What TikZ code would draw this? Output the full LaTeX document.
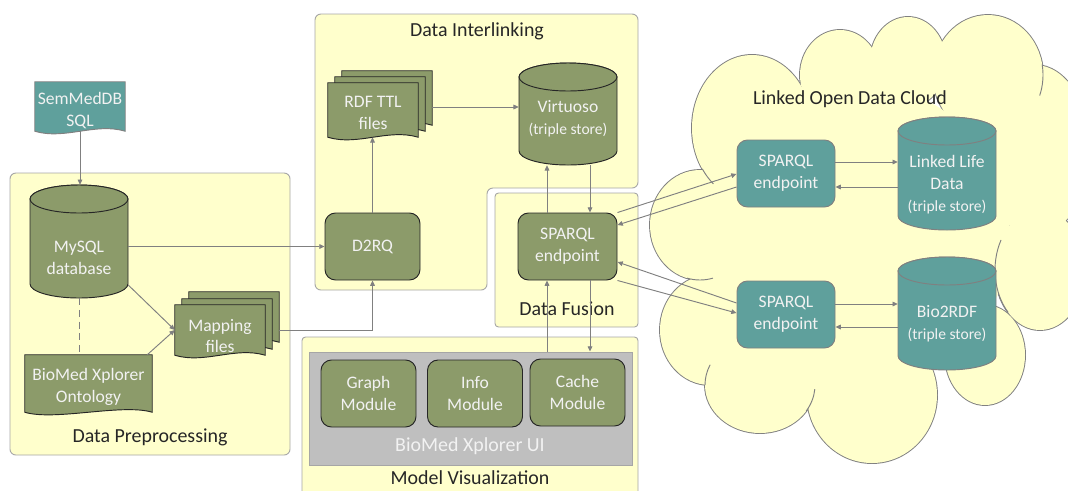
\documentclass[tikz,border=0pt]{standalone}
\usepackage{fontspec}
\setmainfont{Carlito}
\usetikzlibrary{calc,arrows.meta}
\pgfdeclarelayer{back}
\pgfdeclarelayer{mid}
\pgfsetlayers{back,mid,main}
\definecolor{olive}{RGB}{140,155,106}
\definecolor{tealbox}{RGB}{95,160,156}
\definecolor{paper}{RGB}{255,255,204}
\definecolor{rim}{RGB}{166,166,166}
\definecolor{wire}{RGB}{128,128,128}
\definecolor{uigray}{RGB}{191,191,191}
\definecolor{ink}{RGB}{242,242,242}

\tikzset{
  panel/.style={draw=rim, fill=paper, line width=0.8pt, rounded corners=5pt},
  title/.style={font=\fontsize{17}{20}\selectfont, text=black!85, inner sep=0pt},
  inner/.style={font=\fontsize{15}{18.7}\selectfont, align=center, text=ink, inner sep=0pt},
  box/.style={inner, draw=black!85, fill=olive, line width=0.8pt, rounded corners=9pt,
    minimum width=2.85cm, minimum height=2.01cm},
  tbox/.style={box, draw=wire, fill=tealbox, minimum width=2.94cm},
  sheetbox/.style={inner, minimum width=2.7cm, minimum height=1.5cm},
  drumbox/.style={inner, minimum width=2.94cm},
  olivedrum/.style={draw=black!85, fill=olive, line width=0.8pt},
  tealdrum/.style={draw=wire, fill=tealbox, line width=0.8pt},
  wire/.style={draw=wire, line width=0.8pt},
  cloudrim/.style={draw=wire, line width=1.6pt},
}

% cylinder: name, x, top, bottom, look, text y, text
\newcommand{\drum}[7]{%
  \node[drumbox, minimum height={(#4-#3)*0.03cm}] (#1) at (#2,{(#3+#4)/2}) {};
  \node[inner] (#1-t) at (#2,#6) {#7};
  \begin{pgfonlayer}{mid}
  \draw[#5] (#2-49,#3+14) -- (#2-49,#4-14) arc[start angle=180,end angle=0,x radius=49,y radius=14]
    -- (#2+49,#3+14) arc[start angle=0,end angle=-180,x radius=49,y radius=14] -- cycle;
  \draw[#5] (#2,#3+14) ellipse[x radius=49,y radius=14];
  \end{pgfonlayer}}
% document sheet with wavy bottom round a node
\newcommand{\sheet}[2]{%
  \begin{pgfonlayer}{mid}
  \draw[#2] (#1.north west) -- (#1.north east) -- (#1.south east)
    .. controls ($(#1.south east)+(-30,-9)$) and ($(#1.south west)+(30,9)$) .. (#1.south west) -- cycle;
  \end{pgfonlayer}}
% crease of the cloud: centre x, centre y, x radius, y radius, from, to
\newcommand{\crease}[6]{%
  \draw[wire] ($(#1,#2)+(#5:#3 and #4)$) arc[start angle=#5,end angle=#6,x radius=#3,y radius=#4];}
\newcommand{\ts}{{\fontsize{13.3}{16}\selectfont(triple store)}}

\begin{document}
\begin{tikzpicture}[x=0.03cm,y=-0.03cm,>={Triangle[length=4.5pt,width=4pt]}]
\useasboundingbox (0,0) rectangle (1068,490);

\begin{pgfonlayer}{back}
\draw[panel] (10,173) rectangle (290,455);
\draw[panel] (315,14) -- (638,14) -- (638,188) -- (487,188) -- (487,290) -- (315,290) -- cycle;
\draw[panel,rounded corners=3pt] (495,193) rectangle (638,327);
\draw[panel,rounded corners=3pt] (302,337) rectangle (638,500);
% cloud
\foreach \cx/\cy/\rx/\ry in {752/128/60/73, 840/75/40/45, 908/62/38/45, 988/75/55/60,
    1035/150/55/85, 1040/270/45/60, 985/355/40/50, 872/395/65/68, 760/385/55/48,
    710/330/50/55, 700/225/50/55}
  \draw[cloudrim] (\cx,\cy) ellipse[x radius=\rx,y radius=\ry];
\foreach \cx/\cy/\rx/\ry in {752/128/60/73, 840/75/40/45, 908/62/38/45, 988/75/55/60,
    1035/150/55/85, 1040/270/45/60, 985/355/40/50, 872/395/65/68, 760/385/55/48,
    710/330/50/55, 700/225/50/55}
  \fill[paper] (\cx,\cy) ellipse[x radius=\rx,y radius=\ry];
\fill[paper] (860,235) ellipse[x radius=150,y radius=150];
\crease{752}{128}{60}{73}{146}{130}
\crease{700}{225}{50}{55}{105}{75}
\crease{760}{385}{55}{48}{180}{205}
\crease{760}{385}{55}{48}{33}{5}
\crease{1040}{270}{45}{60}{210}{135}
\crease{988}{75}{55}{60}{-10}{20}
\end{pgfonlayer}

\node[title] (prep-t) at (150,437) {Data Preprocessing};
\node[title] (link-t) at (477,31) {Data Interlinking};
\node[title] (fuse-t) at (567,309) {Data Fusion};
\node[title] (vis-t) at (470,478) {Model Visualization};
\node[title] (lod-t) at (850,99) {Linked Open Data Cloud};

% preprocessing
\node[sheetbox, minimum height=1.47cm] (sem) at (80,106.5) {};
\node[inner] (sem-t) at (80,111) {SemMedDB\\SQL};
\sheet{sem}{tealdrum}
\drum{mysql}{79}{185}{298}{olivedrum}{258}{MySQL\\database}
\node[sheetbox, minimum width=3.81cm, minimum height=1.71cm] (onto) at (88.5,383.5) {};
\node[inner] (onto-t) at (88.5,386.5) {BioMed Xplorer\\Ontology};
\sheet{onto}{olivedrum}
\node[sheetbox] (map) at (220,330) {};
\node[inner] (map-t) at (220,336) {Mapping\\files};
\node[sheetbox] (map2) at ($(map)+(7,-6)$) {};
\node[sheetbox] (map3) at ($(map)+(14,-13)$) {};
\sheet{map3}{olivedrum}
\sheet{map2}{olivedrum}
\sheet{map}{olivedrum}

% interlinking
\node[box] (d2rq) at (372.5,246.5) {D2RQ};
\node[sheetbox, minimum height=1.62cm] (rdf) at (373,110) {};
\node[inner] (rdf-t) at (373,113) {RDF TTL\\files};
\node[sheetbox, minimum height=1.62cm] (rdf2) at ($(rdf)+(7,-6)$) {};
\node[sheetbox, minimum height=1.62cm] (rdf3) at ($(rdf)+(14,-12)$) {};
\sheet{rdf3}{olivedrum}
\sheet{rdf2}{olivedrum}
\sheet{rdf}{olivedrum}
\drum{virt}{568}{63}{165}{olivedrum}{118.5}{Virtuoso\\\ts}

% fusion and visualization
\node[box, minimum width=2.97cm] (fus) at (567.5,246.5) {SPARQL\\endpoint};
\node[draw=rim, fill=uigray, line width=0.8pt, minimum width=9.69cm, minimum height=3.39cm] (ui) at (470.5,408.5) {};
\node[inner, font=\fontsize{17}{20}\selectfont] (ui-t) at (470,446) {BioMed Xplorer UI};
\node[box] (graph) at (368.5,393.5) {Graph\\Module};
\node[box] (info) at (475,393.5) {Info\\Module};
\node[box] (cache) at (577.5,392.5) {Cache\\Module};

% linked open data
\node[tbox] (spq1) at (786,173.5) {SPARQL\\endpoint};
\node[tbox] (spq2) at (786,314.5) {SPARQL\\endpoint};
\drum{lld}{947}{117}{230}{tealdrum}{185}{Linked Life\\Data\\\ts}
\drum{bio}{947}{257}{370}{tealdrum}{323.5}{Bio2RDF\\\ts}

% connectors
\draw[wire,->] (sem.south) -- (sem.south |- mysql.north);
\draw[wire,dash pattern=on 6pt off 4pt] (mysql.south) -- (mysql.south |- onto.north);
\draw[wire,->] (mysql.east |- 0,285) -- (map.west);
\draw[wire,->] ($(onto.north east)+(-5,0)$) -- (map.west);
\draw[wire,->] (mysql.east |- d2rq.west) -- (d2rq.west);
\draw[wire,->] (map3.east |- map.center) -| (d2rq.south);
\draw[wire,->] (d2rq.north) -- (d2rq.north |- rdf.south);
\draw[wire,->] (rdf3.east |- 0,107) -- (virt.west |- 0,107);
\draw[wire,->] (547,0 |- fus.north) -- (547,0 |- virt.south);
\draw[wire,->] (590,0 |- virt.south) -- (590,0 |- fus.north);
\draw[wire,->] (547,0 |- ui.north) -- (547,0 |- fus.south);
\draw[wire,->] (590,0 |- fus.south) -- (590,0 |- ui.north);
\draw[wire,->] (fus.north east) -- (spq1.west |- 0,174);
\draw[wire,->] (spq1.west |- 0,187) -- (fus.east |- 0,225);
\draw[wire,->] (spq2.west |- 0,303) -- (fus.east |- 0,262);
\draw[wire,->] (fus.south east) -- (spq2.west |- 0,313);
\draw[wire,->] (spq1.east |- 0,162) -- (lld.west |- 0,162);
\draw[wire,->] (lld.west |- 0,187) -- (spq1.east |- 0,187);
\draw[wire,->] (spq2.east |- 0,304) -- (bio.west |- 0,304);
\draw[wire,->] (bio.west |- 0,327) -- (spq2.east |- 0,327);
\end{tikzpicture}
\end{document}
